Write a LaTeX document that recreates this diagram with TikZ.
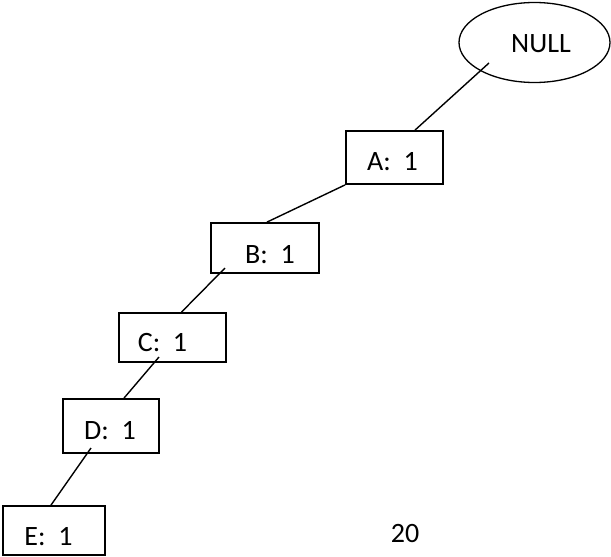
\documentclass[tikz,border=0pt]{standalone}
\usepackage{fontspec}
\setmainfont{Carlito}
\usetikzlibrary{calc,shapes.geometric}
\begin{document}
\begin{tikzpicture}[x=1pt,y=-1pt,
  box/.style={draw,line width=1.8pt,rectangle,inner sep=0pt},
  oval/.style={draw,line width=1.3pt,ellipse,inner sep=0pt,minimum width=151pt,minimum height=80pt},
  lbl/.style={inner sep=0pt,anchor=base,font=\fontsize{28}{32}\selectfont},
  link/.style={line width=1.4pt}]
\useasboundingbox (0,0) rectangle (611,557);
% nodes
\node[oval] (null) at (534.5,42.5) {};
\node[box,minimum width=97pt,minimum height=53pt] (A) at (394.5,157.5) {};
\node[box,minimum width=108pt,minimum height=50pt] (B) at (265,248) {};
\node[box,minimum width=107pt,minimum height=49pt] (C) at (172.5,337.5) {};
\node[box,minimum width=96pt,minimum height=54pt] (D) at (111,426) {};
\node[box,minimum width=102pt,minimum height=49pt] (E) at (54,530.5) {};
% labels
\node[lbl] (tnull) at (541,52) {NULL};
\node[lbl] (tA) at (392.5,170) {A:\ \ 1};
\node[lbl] (tB) at (270,263) {B:\ \ 1};
\node[lbl] (tC) at (162.5,351) {C:\ \ 1};
\node[lbl] (tD) at (110,439) {D:\ \ 1};
\node[lbl] (tE) at (48.5,545) {E:\ \ 1};
\node[lbl] (page) at (405,542) {20};
% connectors
\draw[link] ($(null.center)+(-45.5,20.5)$) -- ($(A.north)+(20.5,0)$);
\draw[link] (A.south west) -- ($(B.north)+(2,0)$);
\draw[link] ($(B.center)+(-40,20)$) -- ($(C.north)+(9,0)$);
\draw[link] ($(C.center)+(-13.5,19.5)$) -- ($(D.north)+(13,0)$);
\draw[link] ($(D.center)+(-20,22)$) -- ($(E.north)+(-3,0)$);
\end{tikzpicture}
\end{document}
